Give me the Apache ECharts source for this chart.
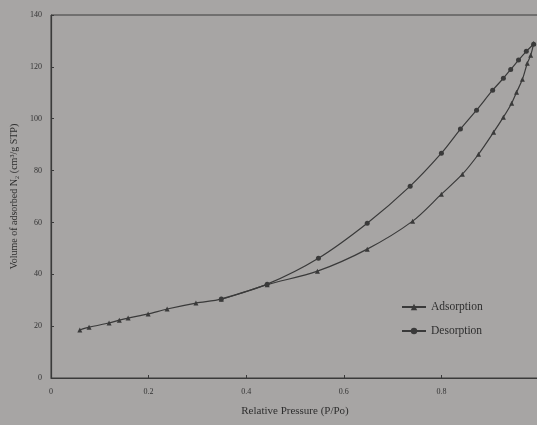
<!DOCTYPE html>
<html><head><meta charset="utf-8">
<script src="https://cdn.jsdelivr.net/npm/echarts@6/dist/echarts.min.js"></script>
<style>html,body{margin:0;padding:0;background:#a7a5a4;}#c{width:537px;height:425px;}</style>
</head><body><div id="c"></div>
<script>
const adsX = [0.059,0.078,0.119,0.140,0.158,0.199,0.238,0.297,0.349,0.443,0.546,0.648,0.741,0.800,0.843,0.876,0.907,0.927,0.944,0.954,0.966,0.976,0.983,0.989];
const adsY = [18.5,19.6,21.2,22.3,23.1,24.7,26.6,28.9,30.4,36.0,41.2,49.7,60.5,70.9,78.6,86.3,94.8,100.6,106.0,110.2,115.2,121.4,124.5,129.0];
const desX = [0.349,0.443,0.548,0.648,0.736,0.800,0.839,0.872,0.905,0.927,0.942,0.958,0.974,0.989];
const desY = [30.5,36.2,46.2,59.7,74.0,86.7,96.0,103.3,111.0,115.6,119.0,122.6,126.0,128.7];
const xTicks = ['0','0.2','0.4','0.6','0.8'];
const yTicks = [0,20,40,60,80,100,120,140];

const ink = '#3a3a3a';
const font = "'Liberation Serif','DejaVu Serif',serif";
const chart = echarts.init(document.getElementById('c'));
chart.setOption({
  backgroundColor: '#a7a5a4',
  animation: false,
  textStyle: {fontFamily: font, color: ink},
  grid: {left: 51, top: 15, width: 488, height: 363, outerBoundsMode: 'none', containLabel: false,
         show: true, borderColor: ink, borderWidth: 1},
  legend: {
    orient: 'vertical', left: 396, top: 296, itemGap: 12, itemWidth: 24, itemHeight: 8,
    textStyle: {fontFamily: font, fontSize: 11.5, color: '#2e2e2e'},
    data: ['Adsorption', 'Desorption']
  },
  xAxis: {
    type: 'value', min: 0, max: 1, interval: 0.2,
    name: 'Relative Pressure (P/Po)', nameLocation: 'middle', nameGap: 28,
    nameTextStyle: {fontFamily: font, fontSize: 11, color: '#2e2e2e'},
    axisLine: {lineStyle: {color: ink, width: 1.2}},
    axisTick: {inside: true, length: 3, lineStyle: {color: ink}},
    axisLabel: {fontFamily: font, fontSize: 8, color: '#333', margin: 10,
      formatter: v => { const s = String(+(+v).toFixed(1)); return xTicks.includes(s) ? s : ''; }},
    splitLine: {show: false}
  },
  yAxis: {
    type: 'value', min: 0, max: 140, interval: 20,
    name: 'Volume of adsorbed N\u2082 (cm\u00b3/g STP)', nameLocation: 'middle', nameGap: 30,
    nameTextStyle: {fontFamily: font, fontSize: 10, color: '#2e2e2e'},
    axisLine: {show: true, lineStyle: {color: ink, width: 1.2}},
    axisTick: {show: true, inside: true, length: 3, lineStyle: {color: ink}},
    axisLabel: {fontFamily: font, fontSize: 8, color: '#333', margin: 9,
      formatter: v => yTicks.includes(v) ? String(v) : ''},
    splitLine: {show: false}
  },
  series: [
    {name: 'Adsorption', type: 'line', smooth: 0.3, symbol: 'triangle', symbolSize: 5,
     itemStyle: {color: ink}, lineStyle: {color: ink, width: 1.2},
     data: adsX.map((x, i) => [x, adsY[i]])},
    {name: 'Desorption', type: 'line', smooth: 0.3, symbol: 'circle', symbolSize: 5,
     itemStyle: {color: ink}, lineStyle: {color: ink, width: 1.2},
     data: desX.map((x, i) => [x, desY[i]])}
  ]
});
</script></body></html>
